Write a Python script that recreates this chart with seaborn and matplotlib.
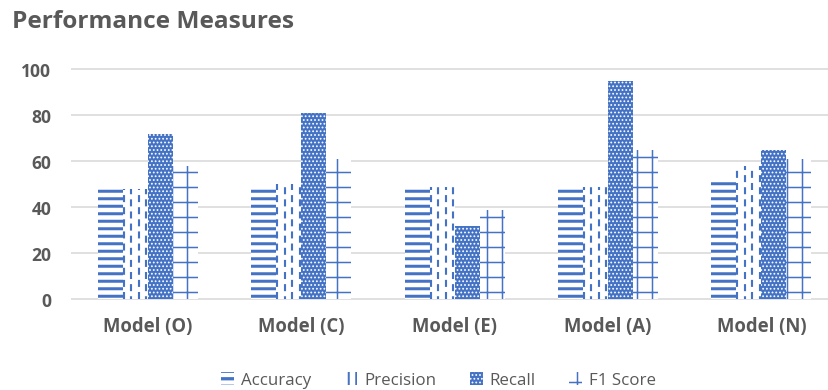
import numpy as np
import pandas as pd
import seaborn as sns
import matplotlib.pyplot as plt
from matplotlib.patches import Patch

# Scores per model and measure
models = ["Model (O)", "Model (C)", "Model (E)", "Model (A)", "Model (N)"]
measures = ["Accuracy", "Precision", "Recall", "F1 Score"]
accuracy = [48, 48, 48, 48, 51]
precision = [48, 50, 49, 49, 58]
recall = [72, 81, 32, 95, 65]
f1_score = [58, 61, 39, 65, 61]
y_ticks = [0, 20, 40, 60, 80, 100]

df = pd.DataFrame({
    "Model": models * len(measures),
    "Measure": np.repeat(measures, len(models)),
    "Score": accuracy + precision + recall + f1_score,
})

BLUE = "#4472C4"
GRID = "#D9D9D9"
TEXT = "#595959"
DPI = 90
W, H = 829, 391

sns.set_theme(style="white")
plt.rcParams["font.family"] = ["Open Sans", "DejaVu Sans"]

fig = plt.figure(figsize=(W / DPI, H / DPI), dpi=DPI)
ax = fig.add_axes([71.3 / W, 88.2 / H, 766.7 / W, 235.1 / H])

sns.barplot(data=df, x="Model", y="Score", hue="Measure", ax=ax,
            width=0.652, palette=[BLUE] * 4, saturation=1,
            errorbar=None, legend=False)

styles = {
    "Accuracy": dict(face="white", hatch_col=BLUE, hatch="--", hlw=2.4),
    "Precision": dict(face="white", hatch_col=BLUE, hatch=None, hlw=1.0),
    "Recall": dict(face=BLUE, hatch_col="white", hatch="....", hlw=0.9),
    "F1 Score": dict(face="white", hatch_col=BLUE, hatch="+", hlw=1.2),
}


def style_patch(p, face, hatch_col, hatch, hlw):
    p.set_facecolor(face)
    p.set_edgecolor(hatch_col)
    p.set_linewidth(0)
    p.set_hatch(hatch)
    if hasattr(p, "set_hatchcolor"):
        p.set_hatchcolor(hatch_col)
    if hasattr(p, "set_hatch_linewidth"):
        p.set_hatch_linewidth(hlw)


for name, cont in zip(measures, ax.containers):
    for p in cont.patches:
        style_patch(p, **styles[name])

# Precision bars: dashed vertical strokes
for p in ax.containers[1].patches:
    x0, w, h = p.get_x(), p.get_width(), p.get_height()
    for k, frac in enumerate([0.04, 0.34, 0.64, 0.94]):
        off = 0 if k % 2 == 0 else 2.0
        ax.vlines(x0 + frac * w, 0, h, color=BLUE, lw=1.7,
                  linestyles=[(off, (3.3, 2.4))], zorder=3)

ax.set_xlim(-0.5, len(models) - 0.5)
ax.set_ylim(-1, 101)
ax.set_yticks(y_ticks)
ax.yaxis.grid(True, color=GRID, lw=1.3)
ax.set_axisbelow(True)
for s in ax.spines.values():
    s.set_visible(False)
ax.set_xlabel("")
ax.set_ylabel("")
ax.tick_params(axis="y", length=0, pad=16, labelsize=14, labelcolor=TEXT)
ax.tick_params(axis="x", length=0, pad=11, labelsize=14.8, labelcolor=TEXT)
plt.setp(ax.get_xticklabels(), fontweight="bold")
plt.setp(ax.get_yticklabels(), fontweight="bold")

fig.text(12 / W, 1 - 28 / H, "Performance Measures", fontsize=19.5,
         fontweight="bold", color=TEXT, va="baseline", ha="left")

handles = [Patch(facecolor="white", edgecolor=BLUE, label=name)
           for name in measures]
leg = fig.legend(handles=handles, loc="center",
                 bbox_to_anchor=(438.5 / W, 10 / H),
                 ncol=4, frameon=False, fontsize=13.5, labelcolor=TEXT,
                 handlelength=0.75, handleheight=0.8, handletextpad=0.4,
                 columnspacing=2.0)

legend_hatch = {"Accuracy": ("--", 2.6), "Precision": ("||", 1.6),
                "Recall": ("....", 0.9), "F1 Score": ("+", 1.2)}
for name, lp in zip(measures, leg.get_patches()):
    st = styles[name]
    hatch, hlw = legend_hatch[name]
    style_patch(lp, st["face"], st["hatch_col"], hatch, hlw)

fig.savefig("out.png", dpi=DPI)
